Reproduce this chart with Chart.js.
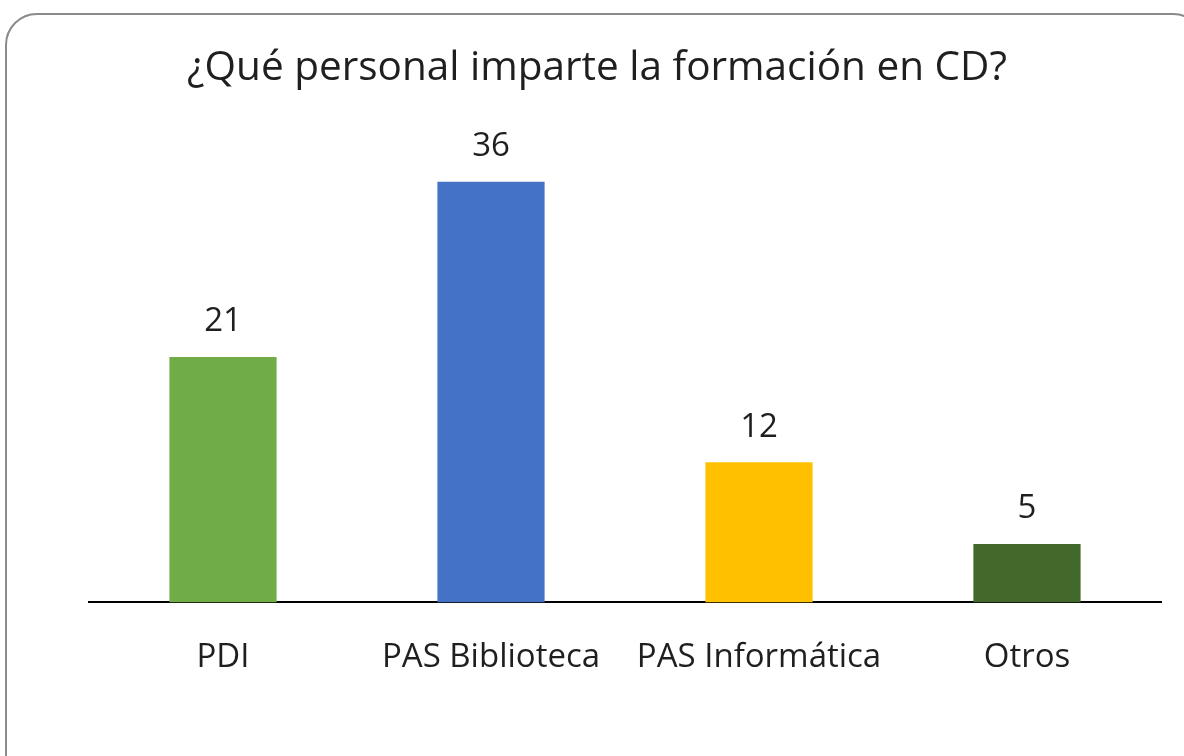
<!DOCTYPE html>
<html>
<head>
<meta charset="utf-8">
<script src="https://cdn.jsdelivr.net/npm/chart.js@4.4.0/dist/chart.umd.min.js"></script>
<style>
  html, body { margin: 0; padding: 0; background: #fff; overflow: hidden; }
  #frame {
    position: absolute; left: 5px; top: 13px; width: 1200px; height: 800px;
    border: 2px solid #8a8a8a; border-radius: 32px; box-sizing: border-box;
  }
  #wrap { position: absolute; left: 0; top: 0; width: 1184px; height: 756px; }
</style>
</head>
<body>
<div id="frame"></div>
<div id="wrap"><canvas id="chart"></canvas></div>
<script>
// data
const categories = ['PDI', 'PAS Biblioteca', 'PAS Informática', 'Otros'];
const values = [21, 36, 12, 5];
const barColors = ['#70AD47', '#4472C4', '#FFC000', '#43682B'];
const titleText = '¿Qué personal imparte la formación en CD?';

const FONT = '"Open Sans", sans-serif';
const TEXT = '#1f1f1f';

// title centred over the whole frame + value labels above each bar
const textLayer = {
  id: 'textLayer',
  afterDatasetsDraw(chart) {
    const ctx = chart.ctx;
    const meta = chart.getDatasetMeta(0);
    ctx.save();
    ctx.fillStyle = TEXT;
    ctx.textAlign = 'center';
    ctx.textBaseline = 'middle';
    ctx.font = '40.5px ' + FONT;
    ctx.fillText(titleText, 597, 68);
    ctx.font = '33px ' + FONT;
    meta.data.forEach((bar, i) => {
      ctx.fillText(String(values[i]), bar.x, bar.y - 35);
    });
    ctx.restore();
  }
};

const ctx = document.getElementById('chart').getContext('2d');
new Chart(ctx, {
  type: 'bar',
  data: {
    labels: categories,
    datasets: [{
      data: values,
      backgroundColor: barColors,
      borderWidth: 0,
      categoryPercentage: 1,
      barPercentage: 0.4
    }]
  },
  options: {
    responsive: true,
    maintainAspectRatio: false,
    animation: false,
    layout: { padding: { left: 89, right: 23, top: 135, bottom: 44 } },
    plugins: {
      legend: { display: false },
      tooltip: { enabled: false },
      title: { display: false }
    },
    scales: {
      y: { display: false, min: 0, max: 40 },
      x: {
        grid: { display: false, drawTicks: false },
        border: { display: true, color: '#000', width: 2 },
        ticks: { color: TEXT, font: { family: FONT, size: 33 }, padding: 35 }
      }
    }
  },
  plugins: [textLayer]
});
</script>
</body>
</html>
